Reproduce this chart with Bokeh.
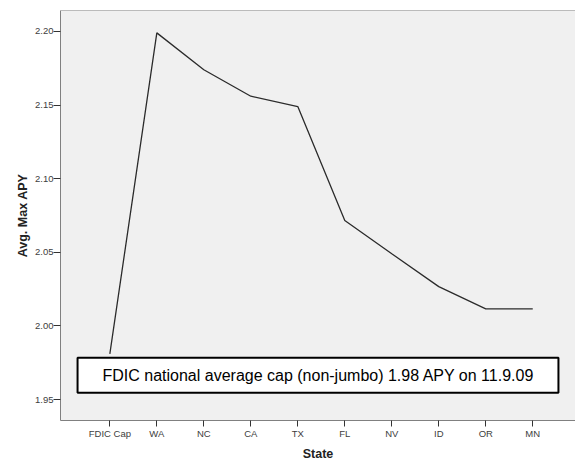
from bokeh.plotting import figure
from bokeh.models import Range1d, FixedTicker, Span, BoxAnnotation, Label, ColumnDataSource, PrintfTickFormatter
from bokeh.embed import file_html
from bokeh.resources import INLINE

# ---- data ----
states = ["FDIC Cap", "WA", "NC", "CA", "TX", "FL", "NV", "ID", "OR", "MN"]
avg_max_apy = [1.981, 2.199, 2.174, 2.156, 2.149, 2.0716, 2.049, 2.0267, 2.0116, 2.0116]
y_ticks = [1.95, 2.00, 2.05, 2.10, 2.15, 2.20]
note_text = "FDIC national average cap (non-jumbo) 1.98 APY on 11.9.09"

idx = list(range(len(states)))
src = ColumnDataSource(dict(x=idx, y=avg_max_apy, state=states))

FONT = "Liberation Sans"
Y_TOP = 2.2142

p = figure(width=575, height=463, output_backend="svg", toolbar_location=None,
           x_range=Range1d(-1.05, 9.91), y_range=Range1d(1.9358, Y_TOP),
           min_border_left=60, min_border_right=0, min_border_top=10, min_border_bottom=42)

p.background_fill_color = "#f0f0f0"
p.border_fill_color = "white"
p.outline_line_color = None
p.xgrid.visible = False
p.ygrid.visible = False

p.line("x", "y", source=src, line_color="#2b2b2b", line_width=1.3)

# top border of frame
p.add_layout(Span(location=Y_TOP, dimension="width", line_color="#808080", line_width=1))

# annotation box
p.add_layout(BoxAnnotation(left=-0.687, right=9.547, bottom=1.9547, top=1.9784,
                           fill_color="white", fill_alpha=1.0,
                           line_color="black", line_alpha=1.0, line_width=2, level="overlay"))
p.add_layout(Label(x=4.44, y=1.9665, text=note_text, text_align="center",
                   text_baseline="middle", text_font=FONT, text_font_size="16px",
                   text_color="black", level="overlay"))

# axes
xa = p.xaxis[0]
xa.ticker = FixedTicker(ticks=idx)
xa.major_label_overrides = {i: s for i, s in zip(idx, states)}
ya = p.yaxis[0]
ya.ticker = FixedTicker(ticks=y_ticks)
ya.formatter = PrintfTickFormatter(format="%.2f")

for ax in (xa, ya):
    ax.axis_line_color = "#808080"
    ax.major_tick_line_color = "#333333"
    ax.minor_tick_line_color = None
    ax.major_tick_in = 0
    ax.major_label_text_font = FONT
    ax.major_label_text_font_size = "9.5px"
    ax.major_label_text_color = "#404040"
    ax.axis_label_text_font = FONT
    ax.axis_label_text_font_style = "bold"
    ax.axis_label_text_font_size = "12.5px"
    ax.axis_label_text_color = "#222222"

xa.major_tick_out = 6
xa.major_label_standoff = 1
xa.axis_label = "State"
xa.axis_label_standoff = 5

ya.major_tick_out = 7
ya.major_label_standoff = 0
ya.axis_label = "Avg. Max APY"
ya.axis_label_standoff = 2

open("out.html", "w").write(file_html(p, INLINE))
